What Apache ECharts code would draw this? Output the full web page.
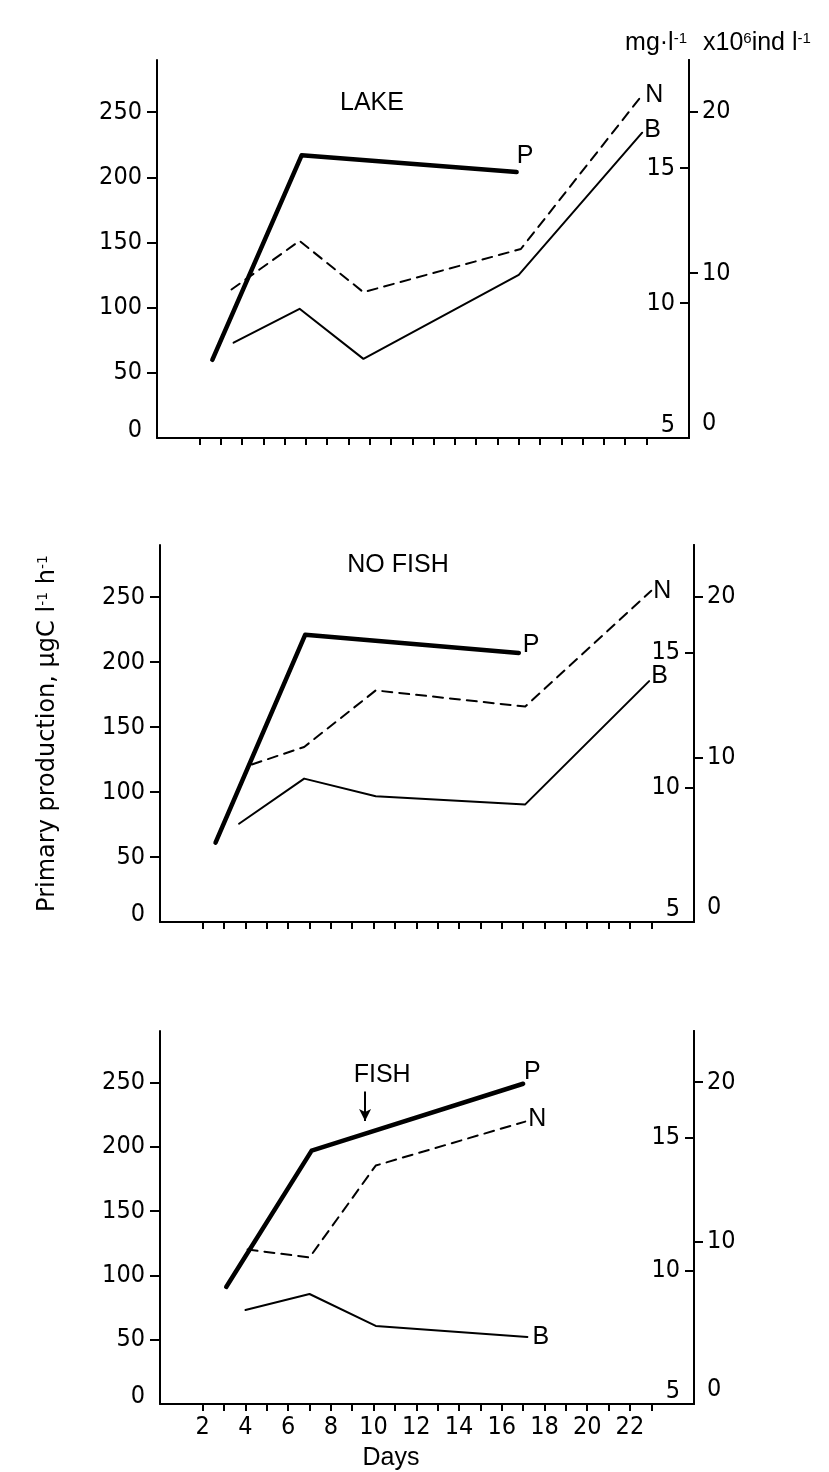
<!DOCTYPE html>
<html><head><meta charset="utf-8">
<script src="https://cdn.jsdelivr.net/npm/echarts@6/dist/echarts.min.js"></script>
<style>html,body{margin:0;padding:0;background:#fff}#c{width:829px;height:1472px}</style>
</head><body><div id="c"></div>
<script>
// ---------- axis ticks / labels ----------
const dayTicks = [2,3,4,5,6,7,8,9,10,11,12,13,14,15,16,17,18,19,20,21,22,23];
const dayLabels = [2,4,6,8,10,12,14,16,18,20,22];
const ppTicks = [50,100,150,200,250];
const ppLabels = [0,50,100,150,200,250];
const mgTicks = [10,15];
const mgLabels = [5,10,15];
const indTicks = [10,20];
const indLabels = [0,10,20];
const panelTitles = ['LAKE','NO FISH','FISH'];

// ---------- LAKE ----------
const lakeP_days = [2.6, 6.8, 16.9];
const lakeP      = [60, 217, 204];
const lakeN_days = [3.5, 6.7, 9.7, 17.1, 22.8];
const lakeN      = [10.5, 12.3, 10.4, 12.0, 17.7];
const lakeB_days = [3.6, 6.7, 9.7, 17.0, 22.8];
const lakeB      = [5.7, 7.8, 4.7, 9.9, 18.7];

// ---------- NO FISH ----------
const noFishP_days = [2.6, 6.8, 16.8];
const noFishP      = [61, 221, 207];
const noFishN_days = [4.3, 6.75, 10.1, 17.1, 23.0];
const noFishN      = [10.85, 11.5, 13.6, 13.0, 17.3];
const noFishB_days = [3.7, 6.75, 10.1, 17.1, 22.9];
const noFishB      = [5.9, 8.7, 7.6, 7.1, 14.75];

// ---------- FISH ----------
const fishP_days = [3.1, 7.1, 17.0];
const fishP      = [91, 197, 249];
const fishN_days = [4.1, 7.0, 10.1, 17.1];
const fishN      = [10.8, 10.5, 13.95, 15.6];
const fishB_days = [4.0, 7.0, 10.1, 17.2];
const fishB      = [5.7, 6.7, 4.7, 4.0];

// fish addition arrow (day, top value, tip value) and its text anchor
const fishArrowDay = 9.6, fishArrowTop = 243, fishArrowTip = 220;
const fishTextDay = 10.4, fishTextVal = 256;

// ---------- layout ----------
const FN = "'DejaVu Sans Condensed','Liberation Sans Narrow',sans-serif";
const FT = "'Liberation Sans','DejaVu Sans',sans-serif";
const FY = "'DejaVu Sans','Liberation Sans',sans-serif";
const NUM_SIZE = 25;
const grids = [
  {left:157, top:60,   width:532, height:378},
  {left:160, top:545,  width:534, height:377},
  {left:160, top:1031, width:534, height:375}
];
const titlePos = [[372,103],[398,565],null];
const endOff = [
  {P:[-5,-16], N:[-2,0], B:[-3,-3]},
  {P:[-1,-8],  N:[-3,0], B:[-3,-5]},
  {P:[-4,-12], N:[-2,-2], B:[0,0]}
];

const BLACK = '#000';
const axLine = {show:true, onZero:false, lineStyle:{color:BLACK, width:2}};

const xAxes = grids.map((g,gi)=>({
  type:'value', gridIndex:gi, min:0, max:25,
  axisLine: axLine,
  axisTick:{show:true, customValues:dayTicks, length:7, lineStyle:{color:BLACK,width:2}},
  axisLabel:{show: gi===2, customValues:dayLabels, margin:11, color:BLACK, fontFamily:FN, fontSize:NUM_SIZE},
  splitLine:{show:false},
  name: gi===2 ? 'Days' : '', nameLocation:'middle', nameGap:42,
  nameTextStyle:{color:BLACK, fontFamily:FT, fontSize:25, padding:[0,72,0,0]}
}));

const yAxes = [];
grids.forEach((g,gi)=>{
  yAxes.push({
    type:'value', gridIndex:gi, position:'left', min:0, max:290,
    axisLine: axLine,
    axisTick:{show:true, customValues:ppTicks, length:10, lineStyle:{color:BLACK,width:2}},
    axisLabel:{customValues:ppLabels, margin:15, color:BLACK, fontFamily:FN, fontSize:NUM_SIZE,
      formatter: v => v===0 ? '{z|0}' : String(v),
      rich:{z:{fontFamily:FN, fontSize:NUM_SIZE, color:BLACK, padding:[0,0,16,0]}}},
    splitLine:{show:false},
    name: gi===1 ? '{t|Primary production, µgC l}{s|-1}{t| h}{s|-1}' : '',
    nameLocation:'middle', nameGap:100, nameRotate:90,
    nameTextStyle:{color:BLACK, rich:{
      t:{fontFamily:FY, fontSize:24, color:BLACK},
      s:{fontFamily:FY, fontSize:14, color:BLACK, verticalAlign:'top'}}}
  });
  yAxes.push({
    type:'value', gridIndex:gi, position:'right', min:5, max:19,
    axisLine: axLine,
    axisTick:{show:true, inside:true, customValues:mgTicks, length:9, lineStyle:{color:BLACK,width:2}},
    axisLabel:{inside:true, customValues:mgLabels, margin:14, color:BLACK, fontFamily:FN, fontSize:NUM_SIZE,
      formatter: v => v===5 ? '{z|5}' : String(v),
      rich:{z:{fontFamily:FN, fontSize:NUM_SIZE, color:BLACK, padding:[0,0,26,0]}}},
    splitLine:{show:false},
    name: gi===0 ? '{a|mg·l}{s|-1}' : '', nameLocation:'end', nameGap:4,
    nameTextStyle:{align:'right', verticalAlign:'bottom', padding:[0,2,0,0], rich:{
      a:{fontFamily:FT, fontSize:25, color:BLACK},
      s:{fontFamily:FT, fontSize:15, color:BLACK, verticalAlign:'top'}}}
  });
  yAxes.push({
    type:'value', gridIndex:gi, position:'right', min:-0.2, max:23.2,
    axisLine: axLine,
    axisTick:{show:true, customValues:indTicks, length:9, lineStyle:{color:BLACK,width:2}},
    axisLabel:{customValues:indLabels, margin:13, color:BLACK, fontFamily:FN, fontSize:NUM_SIZE,
      formatter: v => v===0 ? '{z|0}' : String(v),
      rich:{z:{fontFamily:FN, fontSize:NUM_SIZE, color:BLACK, padding:[0,0,22,0]}}},
    splitLine:{show:false},
    name: gi===0 ? '{a|x10}{s|6}{a|ind l}{s|-1}' : '', nameLocation:'end', nameGap:4,
    nameTextStyle:{align:'left', verticalAlign:'bottom', padding:[0,0,0,14], rich:{
      a:{fontFamily:FT, fontSize:25, color:BLACK},
      s:{fontFamily:FT, fontSize:15, color:BLACK, verticalAlign:'top'}}}
  });
});

const styles = {
  P:{width:4.5, type:'solid'},
  N:{width:2, type:[10,7]},
  B:{width:2, type:'solid'}
};
const axisOf = {P:0, N:1, B:2};

function mk(gi, key, days, vals, extra){
  const s = {
    type:'line', name:key, xAxisIndex:gi, yAxisIndex:gi*3+axisOf[key],
    data: days.map((d,i)=>[d, vals[i]]),
    symbol:'none', silent:true, animation:false,
    lineStyle:{color:BLACK, width:styles[key].width, type:styles[key].type, cap:'round', join:'round'},
    endLabel:{show:true, formatter:key, color:BLACK, fontFamily:FT, fontSize:25,
      align:'left', verticalAlign:'middle', distance:5, offset:endOff[gi][key]}
  };
  return Object.assign(s, extra||{});
}

const series = [
  mk(0,'P',lakeP_days,lakeP), mk(0,'N',lakeN_days,lakeN), mk(0,'B',lakeB_days,lakeB),
  mk(1,'P',noFishP_days,noFishP), mk(1,'N',noFishN_days,noFishN), mk(1,'B',noFishB_days,noFishB),
  mk(2,'P',fishP_days,fishP,{
    markLine:{silent:true, symbol:['none','arrow'], symbolSize:[9,12], animation:false,
      lineStyle:{color:BLACK, width:2, type:'solid'}, label:{show:false},
      data:[[{coord:[fishArrowDay, fishArrowTop]},{coord:[fishArrowDay, fishArrowTip]}]]},
    markPoint:{silent:true, animation:false, symbol:'circle', symbolSize:1,
      itemStyle:{color:'rgba(0,0,0,0)'},
      label:{show:true, position:'inside', formatter:panelTitles[2], color:BLACK, fontFamily:FT, fontSize:25},
      data:[{coord:[fishTextDay, fishTextVal]}]}
  }),
  mk(2,'N',fishN_days,fishN), mk(2,'B',fishB_days,fishB)
];

const graphic = [];
titlePos.forEach((p,i)=>{
  if(!p) return;
  graphic.push({type:'text', x:p[0], y:p[1], silent:true,
    style:{text:panelTitles[i], fill:BLACK, fontFamily:FT, fontSize:25, align:'center', verticalAlign:'middle'}});
});

const chart = echarts.init(document.getElementById('c'), null, {renderer:'canvas'});
chart.setOption({
  animation:false,
  backgroundColor:'#fff',
  grid: grids.map(g=>Object.assign({containLabel:false}, g)),
  xAxis: xAxes,
  yAxis: yAxes,
  series: series,
  graphic: graphic
});
</script></body></html>
